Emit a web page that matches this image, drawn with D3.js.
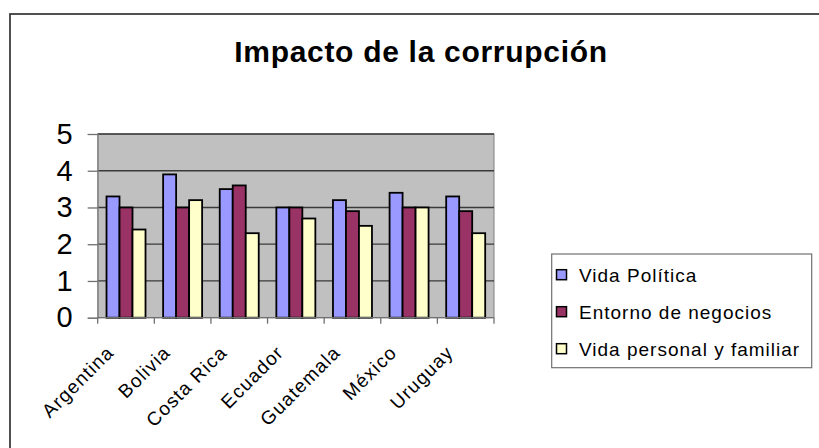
<!DOCTYPE html>
<html>
<head>
<meta charset="utf-8">
<script src="https://cdn.jsdelivr.net/npm/d3@7"></script>
<style>
    body { margin: 0; background: #fff; }
    svg { display: block; font-family: "Liberation Sans", Arial, sans-serif; }
</style>
</head>
<body>
<svg id="chart" width="819" height="448"></svg>
<script>
var countries = ["Argentina", "Bolivia", "Costa Rica", "Ecuador", "Guatemala", "México", "Uruguay"];
var seriesNames = ["Vida Política", "Entorno de negocios", "Vida personal y familiar"];
var vidaPolitica = [3.3, 3.9, 3.5, 3.0, 3.2, 3.4, 3.3];
var entornoNegocios = [3.0, 3.0, 3.6, 3.0, 2.9, 3.0, 2.9];
var vidaPersonal = [2.4, 3.2, 2.3, 2.7, 2.5, 3.0, 2.3];
var yTicks = [0, 1, 2, 3, 4, 5];
var seriesColors = ["#9999ff", "#993366", "#ffffcc"];

var svg = d3.select("#chart");

// outer chart frame (runs off the right and bottom edges)
svg.append("rect")
    .attr("x", 10)
    .attr("y", 14)
    .attr("width", 900)
    .attr("height", 500)
    .style("fill", "none")
    .style("stroke", "#333")
    .style("stroke-width", 1.7);

svg.append("text")
    .attr("x", 421)
    .attr("y", 62)
    .attr("text-anchor", "middle")
    .style("font-size", "30px")
    .style("font-weight", "bold")
    .style("letter-spacing", "0.7px")
    .text("Impacto de la corrupción");

var plot = { left: 97.7, right: 494, top: 134, bottom: 317.7 };

var x0 = d3.scaleBand()
    .domain(countries)
    .range([plot.left, plot.right]);

var groupWidth = 39;
var x1 = d3.scaleBand()
    .domain(seriesNames)
    .range([(x0.bandwidth() - groupWidth) / 2, (x0.bandwidth() + groupWidth) / 2]);

var y = d3.scaleLinear()
    .domain([0, 5])
    .range([plot.bottom, plot.top]);

// plot background
svg.append("rect")
    .attr("x", plot.left)
    .attr("y", plot.top)
    .attr("width", plot.right - plot.left)
    .attr("height", plot.bottom - plot.top)
    .style("fill", "#c0c0c0")
    .style("stroke", "#808080")
    .style("stroke-width", 1);

// gridlines
svg.append("g")
    .selectAll("line")
    .data(yTicks.filter(function(d) { return d > 0; }))
    .enter().append("line")
    .attr("x1", plot.left)
    .attr("x2", plot.right)
    .attr("y1", function(d) { return y(d); })
    .attr("y2", function(d) { return y(d); })
    .style("stroke", "#3a3a3a")
    .style("stroke-width", 1.3);

// y axis
var yAxis = svg.append("g")
    .attr("transform", "translate(" + plot.left + ",0)")
    .call(d3.axisLeft(y).tickValues(yTicks).tickSize(10).tickPadding(15).tickFormat(d3.format("d")));
yAxis.select(".domain").style("stroke", "#808080");
yAxis.selectAll(".tick line").style("stroke", "#707070").style("stroke-width", 1.3);
yAxis.selectAll(".tick text")
    .style("font-size", "29px")
    .style("font-family", "'Liberation Sans', Arial, sans-serif")
    .style("fill", "#000");

// bars
var seriesData = [vidaPolitica, entornoNegocios, vidaPersonal];
var groups = svg.append("g")
    .selectAll("g")
    .data(countries)
    .enter().append("g")
    .attr("transform", function(d) { return "translate(" + x0(d) + ",0)"; });

groups.selectAll("rect")
    .data(function(d, i) {
        return seriesNames.map(function(s, j) { return { series: s, idx: j, value: seriesData[j][i] }; });
    })
    .enter().append("rect")
    .attr("x", function(d) { return x1(d.series); })
    .attr("width", x1.bandwidth())
    .attr("y", function(d) { return y(d.value); })
    .attr("height", function(d) { return y(0) - y(d.value); })
    .style("fill", function(d) { return seriesColors[d.idx]; })
    .style("stroke", "#000")
    .style("stroke-width", 1.8);

// x axis line and category boundary ticks
svg.append("line")
    .attr("x1", plot.left)
    .attr("x2", plot.right)
    .attr("y1", plot.bottom)
    .attr("y2", plot.bottom)
    .style("stroke", "#707070")
    .style("stroke-width", 1.3);

var boundaries = countries.map(function(c) { return x0(c); }).concat([plot.right]);
svg.append("g")
    .selectAll("line")
    .data(boundaries)
    .enter().append("line")
    .attr("x1", function(d) { return d; })
    .attr("x2", function(d) { return d; })
    .attr("y1", plot.bottom)
    .attr("y2", plot.bottom + 6)
    .style("stroke", "#707070")
    .style("stroke-width", 1.3);

svg.append("g")
    .selectAll("text")
    .data(countries)
    .enter().append("text")
    .attr("text-anchor", "end")
    .attr("transform", function(d) {
        var cx = x0(d) + x0.bandwidth() / 2 - 11;
        return "translate(" + cx + "," + (plot.bottom + 36) + ") rotate(-45)";
    })
    .style("font-size", "19px")
    .style("letter-spacing", "1.2px")
    .text(function(d) { return d; });

// legend
var legend = { x: 551.7, y: 254, w: 260, h: 113.7 };
svg.append("rect")
    .attr("x", legend.x)
    .attr("y", legend.y)
    .attr("width", legend.w)
    .attr("height", legend.h)
    .style("fill", "#fff")
    .style("stroke", "#707070")
    .style("stroke-width", 1.2);

var legendRows = svg.append("g")
    .selectAll("g")
    .data(seriesNames)
    .enter().append("g")
    .attr("transform", function(d, i) { return "translate(0," + (274.7 + i * 37) + ")"; });

legendRows.append("rect")
    .attr("x", 556.5)
    .attr("y", -5)
    .attr("width", 10)
    .attr("height", 10)
    .style("fill", function(d, i) { return seriesColors[i]; })
    .style("stroke", "#000")
    .style("stroke-width", 1.5);

legendRows.append("text")
    .attr("x", 579)
    .attr("y", 7)
    .style("font-size", "19px")
    .style("letter-spacing", "1px")
    .text(function(d) { return d; });
</script>
</body>
</html>
